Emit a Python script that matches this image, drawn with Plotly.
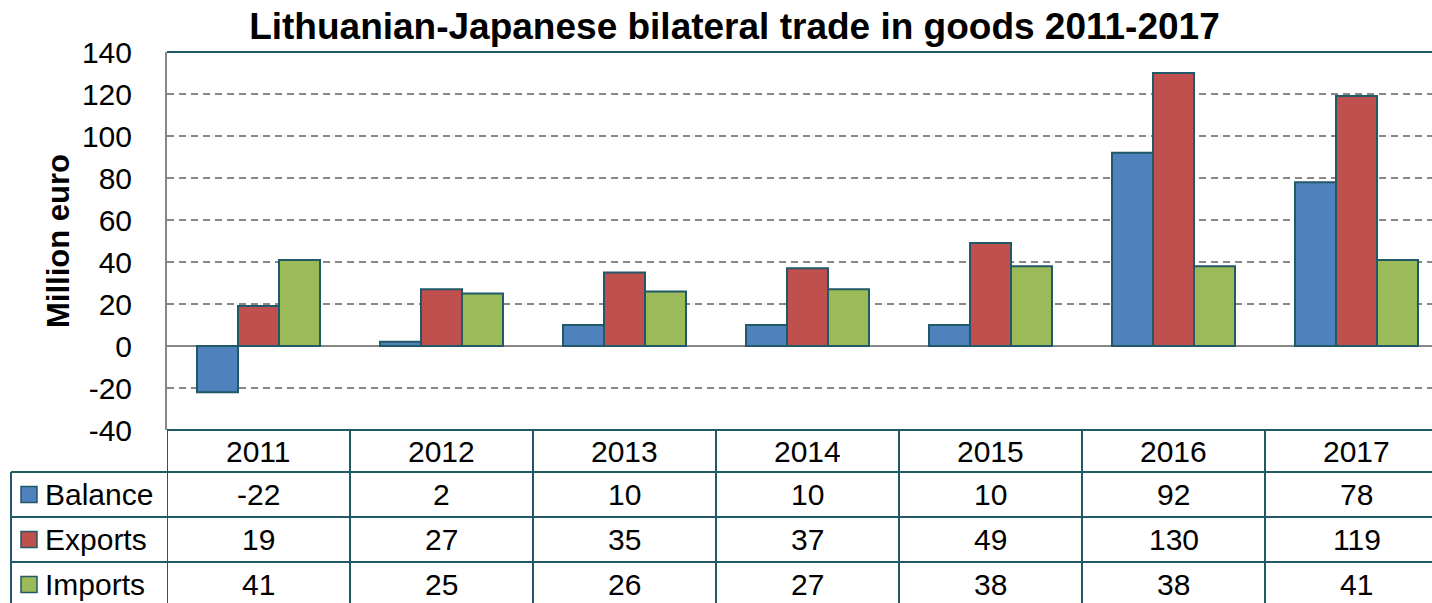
import plotly.graph_objects as go

years = ["2011", "2012", "2013", "2014", "2015", "2016", "2017"]
balance = [-22, 2, 10, 10, 10, 92, 78]
exports = [19, 27, 35, 37, 49, 130, 119]
imports = [41, 25, 26, 27, 38, 38, 41]

series_names = ["Balance", "Exports", "Imports"]
series_values = [balance, exports, imports]
colors = ["#4F81BD", "#C0504D", "#9BBB59"]

y_tick_vals = [-40, -20, 0, 20, 40, 60, 80, 100, 120, 140]
y_tick_text = ["-40", "-20", "0", "20", "40", "60", "80", "100", "120", "140"]

W, H = 1432, 603
ML, MR, MT, MB = 167, 0, 52, 0
plot_w = W - ML - MR
paper_h = H - MT - MB
axis_bottom_px = 430
cat_px = 183.0
x_max = -0.5 + plot_w / cat_px

def py(p):
    return (H - MB - p) / paper_h

def px(p):
    return (p - ML) / plot_w

FONT = "Liberation Sans, Arial, sans-serif"
EDGE = "#215968"
GRID = "#878787"
FS = 30

fig = go.Figure()
for name, vals, col in zip(series_names, series_values, colors):
    fig.add_trace(go.Bar(
        x=list(range(len(years))), y=vals, name=name,
        marker=dict(color=col, line=dict(color=EDGE, width=2)),
        showlegend=False,
    ))

shapes = []
annotations = []
n = len(years)
LW = 2
# table horizontal lines
shapes.append(dict(type="line", xref="x", yref="paper", x0=-0.5, x1=x_max + 0.5,
                   y0=py(430), y1=py(430), line=dict(color=EDGE, width=LW)))
for rp in [472, 517, 562]:
    shapes.append(dict(type="line", xref="paper", yref="paper", x0=px(11), x1=1.05,
                       y0=py(rp), y1=py(rp), line=dict(color=EDGE, width=LW)))
# vertical lines in table
for k in range(n):
    shapes.append(dict(type="line", xref="x", yref="paper", x0=k - 0.5, x1=k - 0.5,
                       y0=py(430), y1=py(610), line=dict(color=EDGE, width=LW)))
shapes.append(dict(type="line", xref="paper", yref="paper", x0=px(11), x1=px(11),
                   y0=py(472), y1=py(610), line=dict(color=EDGE, width=LW)))
# top frame line
shapes.append(dict(type="line", xref="x", yref="paper", x0=-0.5, x1=x_max + 0.5,
                   y0=1, y1=1, line=dict(color=EDGE, width=LW)))

# header years
for k, yr in enumerate(years):
    annotations.append(dict(x=k, y=py(451), xref="x", yref="paper", text=yr, showarrow=False,
                            xanchor="center", yanchor="middle",
                            font=dict(size=FS, color="black", family=FONT)))
row_centers = [494.5, 539.5, 584.5]
for r, (name, vals, col) in enumerate(zip(series_names, series_values, colors)):
    yc = py(row_centers[r])
    for k, v in enumerate(vals):
        annotations.append(dict(x=k, y=yc, xref="x", yref="paper", text=str(v), showarrow=False,
                                xanchor="center", yanchor="middle",
                                font=dict(size=FS, color="black", family=FONT)))
    shapes.append(dict(type="rect", xref="paper", yref="paper",
                       x0=px(21), x1=px(37), y0=py(row_centers[r] + 8), y1=py(row_centers[r] - 8),
                       fillcolor=col, line=dict(color=EDGE, width=1.5)))
    annotations.append(dict(x=px(43), y=yc, xref="paper", yref="paper", text=name, showarrow=False,
                            xanchor="left", yanchor="middle",
                            font=dict(size=FS, color="black", family=FONT)))

fig.update_layout(
    width=W, height=H,
    margin=dict(l=ML, r=MR, t=MT, b=MB, autoexpand=False),
    paper_bgcolor="white", plot_bgcolor="white",
    barmode="group", bargap=0.328, bargroupgap=0,
    title=dict(text="<b>Lithuanian-Japanese bilateral trade in goods 2011-2017</b>",
               x=0.5129, xanchor="center", xref="container",
               y=1 - 26 / H, yanchor="middle", yref="container",
               font=dict(size=37, color="black", family=FONT)),
    xaxis=dict(range=[-0.5, x_max], showticklabels=False, showgrid=False,
               zeroline=False, showline=False, ticks="", automargin=False),
    yaxis=dict(domain=[py(axis_bottom_px), 1], range=[-40, 140],
               tickmode="array", tickvals=y_tick_vals, ticktext=y_tick_text,
               tickfont=dict(size=FS, color="black", family=FONT),
               showgrid=True, gridcolor=GRID, griddash="7px,5px", gridwidth=2,
               zeroline=True, zerolinecolor=GRID, zerolinewidth=2,
               showline=True, linecolor=GRID, linewidth=2, ticks="",
               ticklabelstandoff=27, automargin=False,
               title=dict(text="<b>Million euro</b>", standoff=3,
                          font=dict(size=31, color="black", family=FONT))),
    shapes=shapes, annotations=annotations,
)

fig.write_html("out.html", config={"displayModeBar": False},
               post_script="document.body.style.margin='0';")
